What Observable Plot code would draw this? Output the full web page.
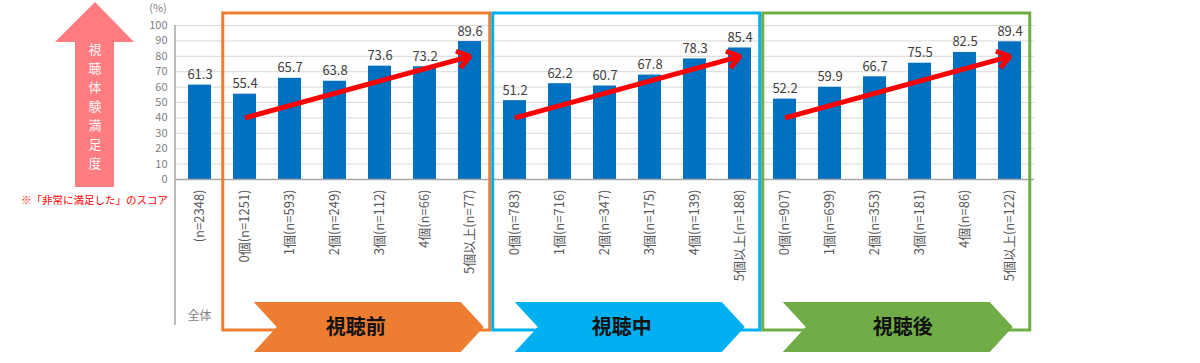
<!DOCTYPE html>
<html><head><meta charset="utf-8">
<script src="https://cdn.jsdelivr.net/npm/d3@7"></script>
<script src="https://cdn.jsdelivr.net/npm/@observablehq/plot@0.6"></script>
<style>body{margin:0;background:#fff;} svg{display:block}</style>
</head><body><div id="chart"></div>
<script>
// ---- data ----
const categories = [
  "(n=2348)",
  "0個(n=1251)", "1個(n=593)", "2個(n=249)", "3個(n=112)", "4個(n=66)", "5個以上(n=77)",
  "0個(n=783)", "1個(n=716)", "2個(n=347)", "3個(n=175)", "4個(n=139)", "5個以上(n=188)",
  "0個(n=907)", "1個(n=699)", "2個(n=353)", "3個(n=181)", "4個(n=86)", "5個以上(n=122)"
];
const values = [
  61.3,
  55.4, 65.7, 63.8, 73.6, 73.2, 89.6,
  51.2, 62.2, 60.7, 67.8, 78.3, 85.4,
  52.2, 59.9, 66.7, 75.5, 82.5, 89.4
];
const yTicks = [0, 10, 20, 30, 40, 50, 60, 70, 80, 90, 100];
const phaseNames = ["視聴前", "視聴中", "視聴後"];
const phaseFirst = ["0個(n=1251)", "0個(n=783)", "0個(n=907)"];
const phaseLast = ["5個以上(n=77)", "5個以上(n=188)", "5個以上(n=122)"];
const phaseColors = ["#ED7D31", "#00B0F0", "#70AD47"];
const trendFrom = [40, 40, 40];
const trendTo = [80, 80, 80];
const totalLabel = "全体";
const unitLabel = "(%)";
const sideTitle = "視聴体験満足度";
const sideNote = "※「非常に満足した」のスコア";

// ---- build ----
const data = categories.map((c, i) => ({cat: c, value: values[i]}));
const arrows = phaseNames.map((p, i) => ({from: phaseFirst[i], to: phaseLast[i], y1: trendFrom[i], y2: trendTo[i]}));
const font = "'Noto Sans CJK JP', 'Noto Sans', sans-serif";

const chart = Plot.plot({
  width: 1200, height: 363,
  marginLeft: 175, marginRight: 166, marginTop: 25, marginBottom: 184,
  style: {fontFamily: font, background: "white", overflow: "visible"},
  x: {domain: categories, paddingInner: 0.5, paddingOuter: 0.25, label: null},
  y: {domain: [0, 100], label: null},
  marks: [
    Plot.gridY(yTicks, {stroke: "#D9D9D9", strokeOpacity: 1}),
    Plot.barY(data, {x: "cat", y: "value", fill: "#0070C0"}),
    Plot.ruleY([0], {stroke: "#A6A6A6", strokeWidth: 1.5}),
    Plot.text(data, {x: "cat", y: "value", text: d => d.value.toFixed(1), dy: -6, lineAnchor: "bottom", fill: "#404040", fontSize: 13}),
    Plot.axisY(yTicks, {tickSize: 0, tickPadding: 8, fontSize: 11, fill: "#808080", label: null}),
    Plot.axisX({tickSize: 0, tickRotate: -90, tickPadding: 10, fontSize: 13, fill: "#595959", label: null}),
    Plot.arrow(arrows, {x1: "from", y1: "y1", x2: "to", y2: "y2", stroke: "#FF0000", strokeWidth: 5, headLength: 4.5, headAngle: 70, strokeLinejoin: "miter", strokeLinecap: "butt"})
  ]
});
document.getElementById("chart").appendChild(chart);

// ---- decorations ----
const svg = d3.select(chart);
const xs = chart.scale("x");
const ys = chart.scale("y");
const step = xs.step;
const bandStart = c => xs.apply(c) - step * 0.25;
const y100 = ys.apply(100);

// vertical axis line
svg.append("line").attr("x1", 175).attr("x2", 175).attr("y1", y100).attr("y2", 325)
  .attr("stroke", "#A6A6A6").attr("stroke-width", 1.5);

// unit label
svg.append("text").attr("x", 158).attr("y", 12).attr("text-anchor", "middle")
  .attr("font-size", 11).attr("fill", "#808080").attr("font-family", font).text(unitLabel);

// total label
svg.append("text").attr("x", xs.apply(categories[0]) + xs.bandwidth / 2).attr("y", 320)
  .attr("text-anchor", "middle").attr("font-size", 12).attr("fill", "#7F7F7F")
  .attr("font-family", font).text(totalLabel);

// frames + chevrons
const chevOffset = [32, 23, 21];
const textOffset = [102, 107, 120];
phaseNames.forEach((p, i) => {
  const xa = bandStart(phaseFirst[i]);
  const xb = bandStart(phaseLast[i]) + step;
  svg.append("rect").attr("x", xa + 1).attr("y", 13).attr("width", xb - xa - 3).attr("height", 317)
    .attr("fill", "none").attr("stroke", phaseColors[i]).attr("stroke-width", 3);
  const L = xa + chevOffset[i], W = 230, top = 302, bot = 352, mid = 327, d = 23;
  svg.append("polygon")
    .attr("points", [[L, top], [L + W - d, top], [L + W, mid], [L + W - d, bot], [L, bot], [L + d, mid]].map(q => q.join(",")).join(" "))
    .attr("fill", phaseColors[i]);
  svg.append("text").attr("x", L + textOffset[i]).attr("y", mid).attr("dy", "0.36em")
    .attr("text-anchor", "middle").attr("font-size", 20).attr("font-weight", "bold")
    .attr("fill", "#111").attr("font-family", font).text(p);
});

// side arrow
svg.append("polygon")
  .attr("points", "55,42 95,2 134,42 114,42 114,187 75,187 75,42")
  .attr("fill", "#FF7C80");
const sideText = svg.append("text").attr("text-anchor", "middle").attr("font-size", 13)
  .attr("fill", "#FFF4F4").attr("font-family", font);
Array.from(sideTitle).forEach((ch, i) => {
  sideText.append("tspan").attr("x", 95).attr("y", 54 + i * 19).text(ch);
});
svg.append("text").attr("x", 168).attr("y", 204).attr("text-anchor", "end")
  .attr("font-size", 10.5).attr("fill", "#FF0000").attr("font-family", font).text(sideNote);
</script>
</body></html>
